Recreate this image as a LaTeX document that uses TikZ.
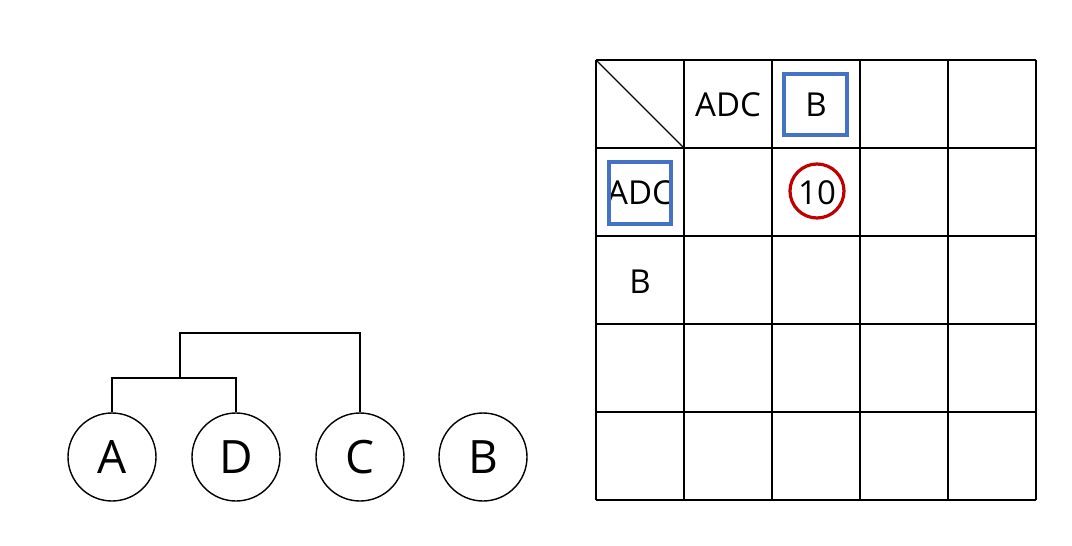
\documentclass[tikz,border=0pt]{standalone}
\usepackage{fontspec}
\setmainfont{Open Sans}
\definecolor{boxblue}{HTML}{4472C4}
\definecolor{ringred}{HTML}{C00000}
\begin{document}
\begin{tikzpicture}[x=1pt,y=-1pt,
  ln/.style={line width=1.4pt,black},
  leaf/.style={circle,draw,line width=1.4pt,black,minimum size=88pt,inner sep=0pt,font=\fontsize{46}{46}\selectfont},
  celltext/.style={inner sep=0pt,font=\fontsize{33}{33}\selectfont},
  bluebox/.style={draw=boxblue,line width=3.2pt},
  redring/.style={circle,draw=ringred,line width=3.2pt,minimum size=54pt,inner sep=0pt}]
\useasboundingbox (0,0) rectangle (1072,546);
% dendrogram
\node[leaf] (A) at (112,457) {A};
\node[leaf] (D) at (236,457) {D};
\node[leaf] (C) at (360,457) {C};
\node[leaf] (B) at (483,457) {B};
\coordinate (ad) at (180,378);
\draw[ln] (A.north) |- (ad) -| (D.north);
\coordinate (top) at (270,333);
\draw[ln] (ad) |- (top) -| (C.north);
% grid
\foreach \i in {0,...,5} {
  \draw[ln] (596+88*\i,60) -- (596+88*\i,500);
  \draw[ln] (596,60+88*\i) -- (1036,60+88*\i);
}
\coordinate (g00) at (596,60);
\coordinate (g11) at (684,148);
\draw[ln] (g00) -- (g11);
\node[celltext] (h1) at (728,105) {ADC};
\node[celltext] (h2) at (816,105) {B};
\node[celltext] (r1) at (640,193) {ADC};
\node[celltext] (r2) at (640,282) {B};
\node[celltext] (v) at (817,193) {10};
\draw[bluebox] (784,74) rectangle (847,135);
\draw[bluebox] (609,162) rectangle (671,224);
\node[redring] (ring) at (817,191) {};
\end{tikzpicture}
\end{document}
